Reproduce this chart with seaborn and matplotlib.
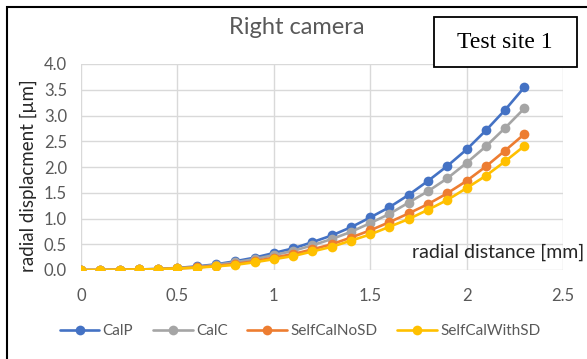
import matplotlib
matplotlib.use("Agg")
import matplotlib.pyplot as plt
import seaborn as sns
import pandas as pd
from matplotlib.patches import Rectangle
from matplotlib.lines import Line2D

# radial distance samples [mm]
radial_distance = [0.0, 0.1, 0.2, 0.3, 0.4, 0.5, 0.6, 0.7, 0.8, 0.9, 1.0, 1.1,
                   1.2, 1.3, 1.4, 1.5, 1.6, 1.7, 1.8, 1.9, 2.0, 2.1, 2.2, 2.3]

# radial displacement [µm] per calibration variant
calp = [0.0, 0.0, 0.005, 0.01, 0.02, 0.04, 0.07, 0.11, 0.17, 0.24, 0.33, 0.42,
        0.54, 0.67, 0.83, 1.02, 1.22, 1.46, 1.73, 2.02, 2.34, 2.71, 3.11, 3.55]
calc = [0.0, 0.0, 0.005, 0.01, 0.02, 0.035, 0.06, 0.10, 0.15, 0.21, 0.29, 0.37,
        0.48, 0.60, 0.74, 0.91, 1.09, 1.31, 1.53, 1.78, 2.08, 2.40, 2.76, 3.14]
selfcal_no_sd = [0.0, 0.0, 0.005, 0.01, 0.015, 0.03, 0.05, 0.08, 0.12, 0.17, 0.24, 0.31,
                 0.40, 0.50, 0.63, 0.77, 0.93, 1.10, 1.28, 1.49, 1.73, 2.01, 2.32, 2.64]
selfcal_with_sd = [0.0, 0.0, 0.005, 0.01, 0.015, 0.03, 0.045, 0.07, 0.10, 0.15, 0.21, 0.27,
                   0.36, 0.45, 0.57, 0.69, 0.84, 0.99, 1.17, 1.36, 1.59, 1.83, 2.11, 2.41]

series_names = ["CalP", "CalC", "SelfCalNoSD", "SelfCalWithSD"]
series_values = [calp, calc, selfcal_no_sd, selfcal_with_sd]
series_colors = ["#4472C4", "#A5A5A5", "#ED7D31", "#FFC000"]

x_ticks = [0, 0.5, 1, 1.5, 2, 2.5]
x_tick_labels = ["0", "0.5", "1", "1.5", "2", "2.5"]
y_ticks = [0.0, 0.5, 1.0, 1.5, 2.0, 2.5, 3.0, 3.5, 4.0]

frames = [pd.DataFrame({"distance": radial_distance, "displacement": vals, "series": name})
          for name, vals in zip(series_names, series_values)]
df = pd.concat(frames, ignore_index=True)

sns.set_theme(style="white")
plt.rcParams["font.family"] = ["Lato", "DejaVu Sans"]

fig = plt.figure(figsize=(5.87, 3.59), dpi=100)
ax = fig.add_axes([81 / 587, 1 - 270 / 359, (563 - 81) / 587, (270 - 64) / 359])

text_gray = "#595959"
grid_gray = "#D9D9D9"

sns.lineplot(data=df, x="distance", y="displacement", hue="series",
             hue_order=series_names, palette=series_colors, marker="o",
             markersize=7, markeredgewidth=0, linewidth=1.9, ax=ax,
             legend=False, zorder=3)

ax.set_xlim(0, 2.5)
ax.set_ylim(0, 4.0)
ax.set_xticks(x_ticks)
ax.set_xticklabels(x_tick_labels)
ax.set_yticks(y_ticks)
ax.set_yticklabels([f"{v:.1f}" for v in y_ticks])
ax.tick_params(axis="both", length=0, labelsize=12, labelcolor=text_gray)
ax.tick_params(axis="x", pad=13)
ax.tick_params(axis="y", pad=10)
ax.grid(True, color=grid_gray, linewidth=1)
ax.set_axisbelow(True)
for side, spine in ax.spines.items():
    spine.set_visible(False)
ax.set_xlabel("")
ax.set_ylabel("")

fig.text(28 / 587, 1 - 176 / 359, "radial displacment [µm]", rotation=90,
         fontsize=13.5, color="#262626", ha="center", va="center")

# x-axis title placed inside the plot area, lower right
fig.text(412 / 587, 1 - 252 / 359, "radial distance [mm]",
         fontsize=14, color="#262626", ha="left", va="center")

fig.text(297 / 587, 1 - 27 / 359, "Right camera", fontsize=17, color=text_gray,
         ha="center", va="center")

# site label box
fig.patches.append(Rectangle((434 / 587, 1 - 67 / 359), (577 - 434) / 587, 50 / 359,
                             transform=fig.transFigure, facecolor="white",
                             edgecolor="black", linewidth=1.3))
fig.text(505 / 587, 1 - 43 / 359, "Test site 1", fontsize=17, color="black",
         family=["Liberation Serif", "DejaVu Serif"], ha="center", va="center")

# outer frame
fig.patches.append(Rectangle((7 / 587, -0.05), 1.2, 1 - 7 / 359 + 0.05,
                             transform=fig.transFigure, facecolor="none",
                             edgecolor="black", linewidth=1.5))

handles = [Line2D([], [], color=c, marker="o", markersize=7, markeredgewidth=0,
                  linewidth=1.9) for c in series_colors]
fig.legend(handles, series_names, loc="center", bbox_to_anchor=(300 / 587, 1 - 331 / 359),
           ncol=4, frameon=False, fontsize=11, labelcolor=text_gray,
           handlelength=2.6, handletextpad=0.2, columnspacing=1.3)

fig.savefig("out.png", dpi=100)
